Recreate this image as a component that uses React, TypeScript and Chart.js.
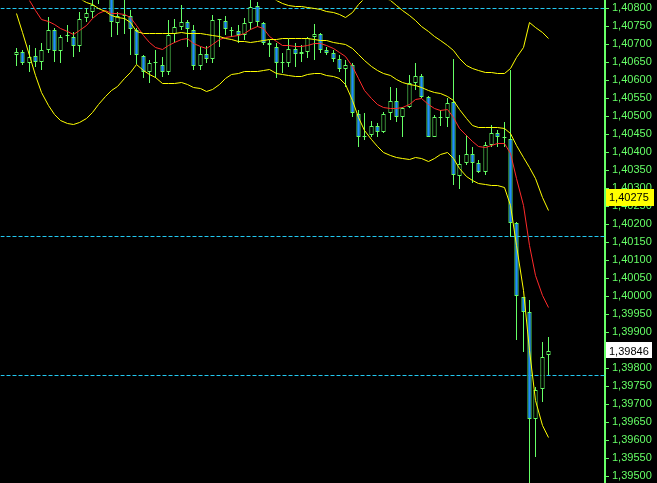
import React, { useEffect, useRef } from "react";
import { Chart, registerables } from "chart.js";
Chart.register(...registerables);

// ---- data ----
const opens = [1.40669,1.40678,1.40647,1.40667,1.40650,1.40683,1.40739,1.40681,1.40722,1.40719,
1.40694,1.40772,1.40789,1.40828,1.40850,1.40839,1.40758,1.40778,1.40778,1.40739,
1.40667,1.40622,1.40647,1.40642,1.40622,1.40728,1.40747,1.40761,1.40739,1.40639,
1.40672,1.40658,1.40767,1.40764,1.40736,1.40736,1.40725,1.40758,1.40806,1.40758,
1.40703,1.40692,1.40647,1.40647,1.40686,1.40672,1.40678,1.40719,1.40728,1.40683,
1.40675,1.40658,1.40631,1.40642,1.40506,1.40442,1.40447,1.40472,1.40456,1.40508,
1.40542,1.40497,1.40525,1.40592,1.40611,1.40553,1.40442,1.40494,1.40494,1.40539,
1.40333,1.40369,1.40394,1.40369,1.40344,1.40419,1.40453,1.40439,1.40436,1.40203,
1.39997,1.39956,1.39658,1.39742,1.39836];

const highs = [1.40689,1.40683,1.40697,1.40689,1.40703,1.40775,1.40744,1.40725,1.40753,1.40733,
1.40789,1.40800,1.40828,1.40867,1.40889,1.40856,1.40789,1.40825,1.40794,1.40744,
1.40669,1.40656,1.40683,1.40664,1.40767,1.40769,1.40808,1.40767,1.40753,1.40692,
1.40694,1.40781,1.40769,1.40778,1.40747,1.40753,1.40772,1.40831,1.40817,1.40761,
1.40711,1.40703,1.40675,1.40714,1.40703,1.40697,1.40719,1.40756,1.40731,1.40692,
1.40683,1.40669,1.40656,1.40647,1.40517,1.40508,1.40486,1.40481,1.40511,1.40581,
1.40578,1.40525,1.40614,1.40647,1.40617,1.40556,1.40503,1.40517,1.40550,1.40658,
1.40392,1.40447,1.40414,1.40378,1.40428,1.40475,1.40461,1.40483,1.40628,1.40206,
1.39997,1.39989,1.39747,1.39872,1.39886];

const lows = [1.40639,1.40642,1.40622,1.40636,1.40628,1.40675,1.40650,1.40647,1.40706,1.40664,
1.40678,1.40761,1.40772,1.40811,1.40833,1.40719,1.40725,1.40728,1.40669,1.40644,
1.40606,1.40592,1.40606,1.40608,1.40614,1.40703,1.40739,1.40692,1.40628,1.40628,
1.40647,1.40647,1.40692,1.40725,1.40719,1.40703,1.40711,1.40739,1.40747,1.40697,
1.40664,1.40606,1.40619,1.40636,1.40636,1.40650,1.40661,1.40656,1.40675,1.40669,
1.40650,1.40622,1.40581,1.40497,1.40414,1.40433,1.40442,1.40442,1.40453,1.40489,
1.40483,1.40442,1.40522,1.40572,1.40550,1.40442,1.40442,1.40472,1.40469,1.40308,
1.40297,1.40364,1.40314,1.40342,1.40336,1.40414,1.40414,1.40414,1.40164,1.39878,
1.39844,1.39461,1.39553,1.39706,1.39781];

const closes = [1.40678,1.40647,1.40664,1.40650,1.40683,1.40739,1.40681,1.40719,1.40721,1.40694,
1.40769,1.40786,1.40808,1.40850,1.40872,1.40761,1.40778,1.40781,1.40742,1.40669,
1.40622,1.40647,1.40647,1.40622,1.40725,1.40747,1.40761,1.40742,1.40639,1.40672,
1.40658,1.40767,1.40767,1.40742,1.40736,1.40725,1.40758,1.40803,1.40761,1.40703,
1.40697,1.40647,1.40647,1.40686,1.40672,1.40678,1.40717,1.40728,1.40683,1.40675,
1.40658,1.40631,1.40642,1.40508,1.40442,1.40442,1.40472,1.40456,1.40506,1.40542,
1.40497,1.40522,1.40592,1.40611,1.40553,1.40442,1.40497,1.40494,1.40536,1.40336,
1.40367,1.40394,1.40369,1.40344,1.40419,1.40453,1.40442,1.40439,1.40203,1.40000,
1.39956,1.39658,1.39739,1.39831,1.39846];

const maRed = [1.40906,1.40864,1.40822,1.40794,1.40769,1.40764,1.40756,1.40744,1.40736,1.40728,
1.40739,1.40753,1.40772,1.40786,1.40794,1.40786,1.40786,1.40783,1.40775,1.40753,
1.40725,1.40706,1.40692,1.40686,1.40697,1.40706,1.40714,1.40717,1.40703,1.40694,
1.40689,1.40700,1.40714,1.40719,1.40722,1.40725,1.40731,1.40742,1.40750,1.40744,
1.40722,1.40708,1.40697,1.40697,1.40694,1.40694,1.40697,1.40703,1.40703,1.40697,
1.40689,1.40678,1.40667,1.40639,1.40606,1.40572,1.40550,1.40533,1.40525,1.40522,
1.40522,1.40525,1.40533,1.40547,1.40550,1.40533,1.40522,1.40517,1.40519,1.40497,
1.40467,1.40447,1.40431,1.40417,1.40414,1.40419,1.40425,1.40425,1.40397,1.40328,
1.40253,1.40142,1.40058,1.40003,1.39969];

const bandMid = [1.40947,1.40933,1.40919,1.40906,1.40894,1.40883,1.40872,1.40861,1.40850,1.40839,
1.40828,1.40817,1.40811,1.40800,1.40792,1.40781,1.40775,1.40772,1.40761,1.40736,
1.40731,1.40731,1.40731,1.40731,1.40731,1.40731,1.40733,1.40731,1.40731,1.40731,
1.40728,1.40725,1.40722,1.40717,1.40714,1.40708,1.40708,1.40706,1.40708,1.40711,
1.40714,1.40714,1.40717,1.40717,1.40717,1.40717,1.40717,1.40714,1.40711,1.40711,
1.40706,1.40703,1.40700,1.40689,1.40672,1.40656,1.40639,1.40628,1.40619,1.40614,
1.40603,1.40594,1.40589,1.40586,1.40581,1.40572,1.40567,1.40564,1.40556,1.40544,
1.40519,1.40494,1.40475,1.40469,1.40469,1.40469,1.40469,1.40467,1.40453,1.40419,
1.40386,1.40358,1.40328,1.40275,1.40239];

const bandLower = [1.40786,1.40733,1.40669,1.40614,1.40567,1.40531,1.40506,1.40489,1.40481,1.40478,
1.40483,1.40494,1.40511,1.40533,1.40556,1.40572,1.40583,1.40606,1.40622,1.40644,
1.40628,1.40617,1.40608,1.40592,1.40592,1.40592,1.40594,1.40589,1.40581,1.40578,
1.40569,1.40575,1.40589,1.40606,1.40617,1.40619,1.40625,1.40625,1.40625,1.40628,
1.40631,1.40619,1.40617,1.40614,1.40611,1.40611,1.40617,1.40619,1.40619,1.40614,
1.40611,1.40606,1.40589,1.40544,1.40497,1.40461,1.40436,1.40417,1.40400,1.40392,
1.40386,1.40383,1.40381,1.40386,1.40383,1.40375,1.40383,1.40394,1.40400,1.40383,
1.40356,1.40333,1.40322,1.40314,1.40311,1.40308,1.40308,1.40303,1.40253,1.40142,
1.40017,1.39850,1.39711,1.39642,1.39608];

const bandUpper = [1.41072,1.41072,1.41067,1.41061,1.41056,1.41050,1.41044,1.41039,1.41033,1.41028,
1.41022,1.41017,1.41011,1.41006,1.41000,1.40994,1.40989,1.40983,1.40978,1.40972,
1.40967,1.40961,1.40956,1.40950,1.40944,1.40939,1.40933,1.40928,1.40922,1.40917,
1.40911,1.40906,1.40900,1.40894,1.40889,1.40883,1.40878,1.40869,1.40861,1.40850,
1.40836,1.40822,1.40814,1.40808,1.40806,1.40806,1.40803,1.40800,1.40797,1.40792,
1.40789,1.40783,1.40775,1.40789,1.40811,1.40828,1.40839,1.40839,1.40831,1.40822,
1.40808,1.40794,1.40781,1.40767,1.40750,1.40736,1.40722,1.40711,1.40697,1.40683,
1.40661,1.40642,1.40633,1.40628,1.40622,1.40622,1.40619,1.40619,1.40633,1.40664,
1.40692,1.40761,1.40747,1.40733,1.40717];

const levelLines = [1.408, 1.40167, 1.39781];
const bidPrice = 1.39846;
const markerPrice = 1.40275;
const priceStep = 0.0005;

// ---- styling ----
const GREEN = "#66ff66";
const BLUE = "#1e90ff";
const RED = "#ff2a2a";
const YELLOW = "#ffff00";
const CYAN = "#22c8f0";
const FONT = "'Liberation Sans', Arial, sans-serif";

const X_MIN = -2.526;
const X_MAX = 93.0;
const Y_MIN = 1.3948056;
const Y_MAX = 1.4082222;

const fmt = (v: number) => Number(v).toFixed(5).replace(".", ",");

const crispPlugin = {
  id: "crisp",
  beforeDatasetDraw(chart: any, args: any) {
    const ctx = chart.ctx;
    ctx.save();
    if (args.meta.type === "bar") ctx.translate(0.5, 0);
    else ctx.translate(0.5, 0.5);
  },
  afterDatasetDraw(chart: any) {
    chart.ctx.restore();
  },
};

const priceBoxPlugin = {
  id: "priceBoxes",
  afterDraw(chart: any) {
    const ctx = chart.ctx;
    const y = chart.scales.y;
    const left = y.left + 1;
    const boxes = [
      { v: markerPrice, bg: YELLOW, w: 48, h: 17, dy: 0.5 },
      { v: bidPrice, bg: "#ffffff", w: 46, h: 16, dy: -1.5 },
    ];
    ctx.save();
    ctx.font = `11px ${FONT}`;
    ctx.textBaseline = "middle";
    ctx.textAlign = "left";
    for (const b of boxes) {
      const py = Math.round(y.getPixelForValue(b.v));
      ctx.fillStyle = b.bg;
      ctx.fillRect(left, Math.round(py + b.dy - b.h / 2), b.w, b.h);
      ctx.fillStyle = "#000";
      ctx.fillText(fmt(b.v), left + 3, py + 1);
    }
    ctx.restore();
  },
};

export default function App() {
  const ref = useRef<HTMLCanvasElement>(null);

  useEffect(() => {
    document.body.style.margin = "0";
    document.body.style.background = "#000";
    const idx = opens.map((_, i) => i);
    const wicks = idx.map((i) => ({ x: i, y: [lows[i], highs[i]] }));
    const bodies = idx.map((i) => ({
      x: i,
      y: [Math.min(opens[i], closes[i]), Math.max(opens[i], closes[i])],
    }));
    const bodyBg = idx.map((i) =>
      closes[i] > opens[i] ? "#000000" : closes[i] < opens[i] ? BLUE : GREEN
    );
    const line = (arr: number[]) => idx.map((i) => ({ x: i, y: arr[i] }));

    const lineDs = (label: string, arr: number[], color: string) => ({
      type: "line" as const,
      label,
      data: line(arr),
      borderColor: color,
      borderWidth: 1,
      pointRadius: 0,
      tension: 0,
      fill: false,
      order: 0,
    });

    const levelDs = levelLines.map((lv, k) => ({
      type: "line" as const,
      label: "level" + k,
      data: [
        { x: X_MIN, y: lv },
        { x: X_MAX, y: lv },
      ],
      borderColor: CYAN,
      borderWidth: 1,
      borderDash: [4, 2],
      pointRadius: 0,
      fill: false,
      order: 3,
    }));

    const chart = new Chart(ref.current!, {
      type: "bar",
      data: {
        datasets: [
          ...levelDs,
          {
            type: "bar",
            label: "wick",
            data: wicks as any,
            backgroundColor: GREEN,
            borderWidth: 0,
            grouped: false,
            maxBarThickness: 1,
            inflateAmount: 0,
            order: 2,
          } as any,
          {
            type: "bar",
            label: "body",
            data: bodies as any,
            backgroundColor: bodyBg,
            borderColor: GREEN,
            borderWidth: 1,
            borderSkipped: false,
            grouped: false,
            maxBarThickness: 5,
            minBarLength: 1,
            inflateAmount: 0,
            order: 1,
          } as any,
          lineDs("upper2", bandUpper, YELLOW),
          lineDs("upper", bandMid, YELLOW),
          lineDs("lower", bandLower, YELLOW),
          lineDs("ma", maRed, RED),
        ],
      },
      options: {
        responsive: false,
        animation: false,
        devicePixelRatio: 1,
        events: [],
        layout: { padding: 0 },
        plugins: { legend: { display: false }, tooltip: { enabled: false } },
        scales: {
          x: {
            type: "linear",
            min: X_MIN,
            max: X_MAX,
            display: false,
            offset: false,
            alignToPixels: true,
          },
          y: {
            type: "linear",
            position: "right",
            min: Y_MIN,
            max: Y_MAX,
            alignToPixels: true,
            afterFit: (s: any) => {
              s.width = 52;
              s.paddingTop = 0;
              s.paddingBottom = 0;
            },
            grid: {
              drawOnChartArea: false,
              drawTicks: true,
              tickLength: 4,
              tickColor: GREEN,
              tickWidth: 1,
              color: GREEN,
            },
            border: { display: true, color: GREEN, width: 2 },
            ticks: {
              stepSize: priceStep,
              includeBounds: false,
              autoSkip: false,
              color: GREEN,
              padding: 3,
              font: { family: FONT, size: 11 },
              callback: (v: any) => fmt(Number(v)),
            },
          },
        },
      } as any,
      plugins: [crispPlugin, priceBoxPlugin],
    });
    return () => chart.destroy();
  }, []);

  return (
    <div
      style={{
        position: "fixed",
        left: 0,
        top: 0,
        width: 657,
        height: 483,
        background: "#000",
      }}
    >
      <canvas ref={ref} width={657} height={483} style={{ display: "block" }} />
    </div>
  );
}
